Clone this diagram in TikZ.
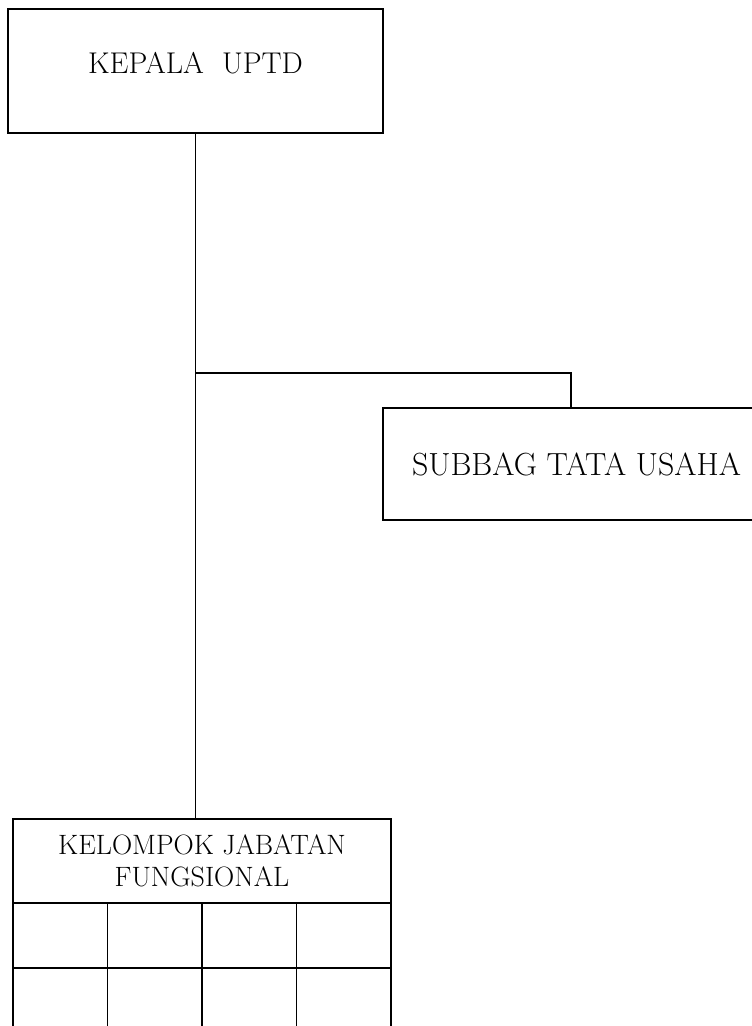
\documentclass[tikz,border=0pt]{standalone}
\usetikzlibrary{positioning}
\begin{document}
\begin{tikzpicture}[x=1pt,y=-1pt,
  box/.style={draw,line width=1.8pt,inner sep=0pt,align=center},
  cell/.style={draw,line width=1.8pt,inner sep=0pt,minimum width=94.5pt,minimum height=65pt},
  conn/.style={line width=1.8pt}]
\clip (0,0) rectangle (752,1026);
\node[box,font=\fontsize{30}{36}\selectfont,minimum width=375pt,minimum height=124pt,text height=20pt,text depth=16pt] (kepala) at (195.5,71) {KEPALA\ \ UPTD};
\node[box,font=\fontsize{32}{38}\selectfont,minimum width=387pt,minimum height=112pt] (subbag) at (576.5,464) {SUBBAG TATA USAHA};
\node[box,font=\fontsize{28}{32}\selectfont,minimum width=378pt,minimum height=84pt] (kelompok) at (202,861) {KELOMPOK JABATAN\\FUNGSIONAL};
\foreach \i in {1,...,4}{
  \node[cell] (c1\i) at ({13+94.5*(\i-0.5)},935.5) {};
  \node[cell] (c2\i) at ({13+94.5*(\i-0.5)},1000.5) {};
}
\coordinate (j) at (195.5,373);
\draw[conn] (kepala.south) -- (kepala.south |- kelompok.north);
\draw[conn] (j) -| ([xshift=189pt]subbag.north west);
\end{tikzpicture}
\end{document}
